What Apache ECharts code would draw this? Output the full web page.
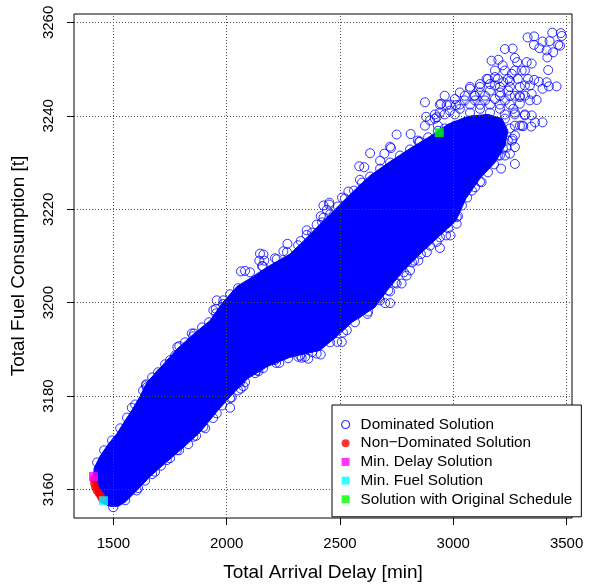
<!DOCTYPE html>
<html>
<head>
<meta charset="utf-8">
<script src="https://cdn.jsdelivr.net/npm/echarts@6/dist/echarts.min.js"></script>
<style>
  html, body { margin: 0; padding: 0; background: #ffffff; }
  #chart { width: 591px; height: 588px; }
</style>
</head>
<body>
<div id="chart"></div>
<script>
// Axis ticks
const delayTicks = [1500, 2000, 2500, 3000, 3500];
const fuelTicks = [3160, 3180, 3200, 3220, 3240, 3260];

// Outline of the densely packed part of the dominated-solution cloud
const coreDelay = [1485, 1441, 1424, 1411, 1415, 1441, 1477, 1516, 1552, 1582, 1618, 1649, 1706, 1781, 1852, 1927, 1980, 2046, 2103, 2178,
  2279, 2337, 2412, 2487, 2558, 2633, 2721, 2809, 2897, 2977, 3065, 3153, 3215, 3241, 3228, 3184, 3118, 3056, 3012, 2928,
  2853, 2778, 2708, 2654, 2553, 2491, 2412, 2279, 2182, 2094, 2033, 1962, 1883, 1816, 1737, 1662, 1596, 1552, 1521];
const coreFuel = [3156.4, 3157.3, 3159.0, 3162.0, 3164.6, 3167.1, 3169.7, 3172.0, 3174.8, 3177.0, 3180.0, 3183.0, 3186.0, 3190.1, 3193.2, 3196.2, 3199.9, 3203.5, 3205.2, 3207.6,
  3210.4, 3213.1, 3216.8, 3220.4, 3223.8, 3227.2, 3230.2, 3233.0, 3235.6, 3238.2, 3239.9, 3240.3, 3239.4, 3236.8, 3233.6, 3230.0, 3226.6, 3222.3, 3217.6, 3213.8,
  3210.4, 3206.7, 3202.6, 3199.0, 3195.8, 3193.0, 3189.8, 3188.3, 3186.4, 3183.8, 3180.8, 3177.0, 3172.3, 3169.3, 3166.0, 3162.8, 3159.4, 3157.3, 3156.4];

// Individually visible dominated solutions (outliers and the ragged edge of the cloud)
const dominatedDelay = [
  3475, 3479, 3357, 3425, 3463, 3356, 3380, 3412, 3441, 3471, 3262, 3272, 3199, 3218, 3282, 3324, 3346, 3415, 3419, 3456,
  3412, 3357, 3302, 3258, 3184, 3147, 3162, 3118, 3221, 3243, 3316, 3346, 3394, 3368, 3294, 3265, 3346, 3394, 3344, 3294,
  3262, 3272, 2875, 2880, 2971, 3012, 3093, 2750, 2812, 2849, 2721, 2919, 2946, 3211, 3361, 3422, 3309, 3378, 3169, 3228,
  3328, 3437, 3394,
  2633, 2725, 2607, 2696, 2453, 2509, 2537, 2588, 2677, 2927, 2585,
  2081, 2162, 2166, 2159, 2221, 2268, 2250, 2327, 2353, 2397, 2427, 2452, 2442, 1952, 1985, 2063, 2147, 2144, 1846, 1782,
  1644, 1706, 1956, 2415, 2427, 2353,
  2941, 2968, 2971, 2827, 2750, 2699, 2621, 2578, 2530, 2488, 2397, 2346, 2316, 2218, 2206, 2133, 2059, 2007, 2015, 2022,
  2062, 2074, 2140, 2232, 2331, 2360, 2415, 2508, 1856, 1791, 1581, 1647, 1699, 1750, 1941, 1780, 1736, 1684, 1603, 1853,
  1897, 1956, 2988, 3015, 3015, 2883, 2846, 2809, 2772, 2713, 2721, 2673, 3096, 3125, 2927, 2794, 3177, 3236,
  2985, 3029, 3074, 3118, 3162, 3206, 3228, 3184, 3140, 3096, 3051, 3007, 2962, 3206, 3250, 3162, 3118, 3074, 3241, 3197,
  3153, 3109, 3272, 3228, 3184, 3140, 3096, 3051, 3007, 3250, 3206, 3162, 3118, 3294, 3316, 3272, 3074, 3029, 2941, 2897,
  3294, 3338, 3250, 3184, 3338,
  1428, 1459, 1494, 1530, 1560, 1596, 1631, 1671, 1728, 1816, 1891, 1953, 2015,
  1772, 1852, 1922, 1984, 2050, 1697, 1644,
  1499, 1552, 1609, 1671, 1750, 1830, 1905, 1980, 2050, 2125, 2213, 2324, 2456, 2566, 2677, 2743, 2818, 2897, 2977, 3038,
  3082, 3153, 3206,
  1640, 1710, 1790, 1865, 1940, 2015, 2081, 2161, 2271, 2377, 2513, 2624, 2721, 2782, 2857, 2941, 3021, 3061, 3118, 3180,
  3219,
  2103, 2213, 2315, 2377, 2456, 2522, 2597, 2677, 2765, 2853, 2932,
  2156, 2266, 2421, 2491, 2562, 2633, 2721, 2809, 2889,
  3184, 3228, 3272, 3316,
  3153, 3197, 3241, 3285, 3330,
  3074, 3118, 3206, 3250, 3294,
  2962, 3051, 3096, 3140, 3206, 3272, 3316,
  2941, 2985, 3029, 3074, 3118, 3162, 3206, 3250,
  2919, 2962, 3007, 3228, 3272, 3316,
  2875, 2932, 3272, 3303,
  2844, 3259,
  3228, 3197, 3250, 3272
];
const dominatedFuel = [
  3257.7, 3257.1, 3257.0, 3256.0, 3255.2, 3255.2, 3254.5, 3254.0, 3253.6, 3255.0, 3254.4, 3252.4, 3252.0, 3250.8, 3251.5, 3251.5, 3251.2, 3252.5, 3249.8, 3246.3,
  3247.2, 3247.7, 3249.7, 3249.0, 3248.3, 3247.9, 3246.8, 3246.8, 3247.2, 3245.4, 3246.5, 3244.7, 3245.8, 3243.4, 3244.0, 3241.5, 3240.1, 3238.6, 3237.7, 3237.9,
  3235.1, 3233.3, 3242.9, 3239.8, 3242.3, 3242.3, 3244.3, 3236.0, 3236.1, 3234.4, 3233.4, 3239.4, 3242.6, 3228.7, 3238.6, 3246.3, 3237.8, 3247.3, 3251.8, 3254.3,
  3256.8, 3257.8, 3255.9,
  3232.0, 3233.1, 3229.0, 3231.9, 3221.4, 3222.5, 3223.8, 3226.3, 3230.4, 3239.7, 3229.2,
  3206.8, 3210.3, 3209.0, 3207.8, 3209.3, 3212.6, 3211.0, 3213.2, 3214.5, 3216.7, 3218.2, 3221.0, 3219.9, 3198.7, 3200.5, 3206.7, 3210.5, 3209.0, 3193.4, 3190.5,
  3182.3, 3184.8, 3200.5, 3218.5, 3220.8, 3215.5,
  3211.7, 3214.4, 3216.9, 3209.0, 3204.1, 3199.9, 3197.6, 3197.6, 3194.1, 3191.6, 3189.1, 3188.4, 3188.4, 3187.1, 3188.7, 3185.5, 3183.0, 3181.1, 3177.5, 3179.7,
  3181.6, 3182.1, 3185.3, 3187.1, 3188.2, 3188.0, 3188.9, 3191.6, 3193.4, 3190.7, 3177.5, 3181.9, 3183.5, 3187.7, 3198.4, 3168.4, 3166.3, 3163.8, 3159.8, 3171.3,
  3173.4, 3176.3, 3214.4, 3216.9, 3218.3, 3210.8, 3209.0, 3206.9, 3204.1, 3202.6, 3199.9, 3200.9, 3224.7, 3225.8, 3213.0, 3205.8, 3231.4, 3233.2,
  3241.1, 3241.5, 3240.7, 3241.5, 3240.7, 3241.5, 3239.4, 3238.6, 3239.0, 3237.9, 3238.6, 3237.9, 3237.3, 3236.8, 3237.3, 3235.8, 3236.8, 3235.8, 3234.7, 3233.6,
  3233.0, 3232.6, 3240.7, 3243.3, 3243.6, 3243.3, 3243.3, 3243.3, 3243.6, 3244.3, 3245.0, 3245.4, 3245.0, 3242.6, 3240.1, 3235.8, 3245.8, 3245.0, 3240.7, 3239.0,
  3244.3, 3243.3, 3247.5, 3246.5, 3246.5,
  3165.8, 3168.4, 3170.5, 3173.1, 3175.4, 3178.2, 3181.2, 3184.0, 3186.8, 3191.5, 3194.7, 3197.7, 3201.8,
  3188.7, 3192.8, 3195.8, 3199.7, 3203.1, 3185.1, 3182.5,
  3156.2, 3157.7, 3160.3, 3163.3, 3166.7, 3169.7, 3173.1, 3178.0, 3181.2, 3184.9, 3187.7, 3188.7, 3191.5, 3195.8, 3200.5, 3204.3, 3208.6, 3212.2, 3215.9, 3220.8,
  3224.0, 3227.9, 3231.5,
  3161.9, 3165.1, 3168.4, 3171.5, 3175.3, 3179.6, 3183.0, 3186.0, 3188.1, 3189.4, 3193.6, 3198.1, 3202.4, 3206.5, 3210.4, 3214.0, 3218.5, 3222.5, 3225.9, 3229.6,
  3233.0,
  3206.5, 3209.5, 3212.3, 3215.0, 3218.9, 3222.3, 3225.7, 3228.7, 3231.5, 3234.5, 3236.8,
  3207.8, 3210.8, 3217.2, 3220.6, 3224.0, 3227.0, 3230.0, 3232.8, 3235.4,
  3249.7, 3249.7, 3249.7, 3249.7,
  3247.9, 3247.9, 3247.9, 3247.9, 3247.9,
  3246.2, 3246.2, 3246.2, 3246.2, 3246.2,
  3244.3, 3244.3, 3244.3, 3244.3, 3244.3, 3244.3, 3244.3,
  3242.4, 3242.4, 3242.4, 3242.4, 3242.4, 3242.4, 3242.4, 3242.4,
  3240.3, 3240.3, 3240.3, 3240.3, 3240.3, 3240.3,
  3237.9, 3237.9, 3237.9, 3237.9,
  3234.7, 3234.7,
  3231.5, 3231.5, 3231.9, 3229.7
];

// Pareto front
const nonDominatedDelay = [1413, 1415, 1419, 1426, 1435, 1444, 1450];
const nonDominatedFuel = [3162.2, 3161.3, 3160.5, 3159.8, 3159.2, 3158.6, 3158.1];

// Highlighted solutions [delay, fuel]
const minDelayPoint = [1412, 3162.8];
const minFuelPoint = [1456, 3157.6];
const originalSchedulePoint = [2938, 3236.4];

const BLUE = '#0000ff';
const FONT = "'Liberation Sans', Arial, Helvetica, sans-serif";

const zip = (xs, ys) => xs.map((x, i) => [x, ys[i]]);
const plainNumber = v => String(v);

const chart = echarts.init(document.getElementById('chart'), null, { renderer: 'canvas' });

chart.setOption({
  animation: false,
  backgroundColor: '#ffffff',
  textStyle: { fontFamily: FONT },
  grid: {
    left: 74, top: 14, right: 19, bottom: 70,
    show: true, borderColor: '#000000', borderWidth: 1, backgroundColor: 'transparent'
  },
  xAxis: {
    type: 'value',
    min: 1326, max: 3524,
    name: 'Total Arrival Delay [min]',
    nameLocation: 'middle',
    nameGap: 45,
    nameTextStyle: { fontSize: 19, color: '#000', fontFamily: FONT },
    axisLine: { show: false },
    splitLine: { show: false },
    axisTick: { show: true, inside: false, length: 7, customValues: delayTicks, lineStyle: { color: '#000', width: 1 } },
    axisLabel: { customValues: delayTicks, formatter: plainNumber, margin: 18, fontSize: 15, color: '#000', fontFamily: FONT }
  },
  yAxis: {
    type: 'value',
    min: 3153.9, max: 3261.8,
    name: 'Total Fuel Consumption [t]',
    nameLocation: 'middle',
    nameGap: 46,
    nameRotate: 90,
    nameTextStyle: { fontSize: 19, color: '#000', fontFamily: FONT },
    axisLine: { show: false },
    splitLine: { show: false },
    axisTick: { show: true, inside: false, length: 7, customValues: fuelTicks, lineStyle: { color: '#000', width: 1 } },
    axisLabel: { customValues: fuelTicks, formatter: plainNumber, rotate: 90, margin: 18, fontSize: 15, color: '#000', fontFamily: FONT }
  },
  legend: {
    orient: 'vertical',
    left: 332, top: 405,
    padding: [12, 9, 10, 9],
    itemGap: 3.7,
    itemWidth: 8, itemHeight: 8,
    backgroundColor: '#ffffff',
    borderColor: '#000000', borderWidth: 1, borderRadius: 0,
    textStyle: { fontSize: 15.3, lineHeight: 15, color: '#000', fontFamily: FONT, padding: [0, 0, 0, 6] },
    selectedMode: false,
    z: 10,
    data: [
      { name: 'Dominated Solution', icon: 'circle', itemStyle: { color: 'rgba(0,0,0,0)', borderColor: BLUE, borderWidth: 1.2 } },
      { name: 'Non\u2212Dominated Solution', icon: 'circle', itemStyle: { color: '#ff0000', borderWidth: 0 } },
      { name: 'Min. Delay Solution', icon: 'rect', itemStyle: { color: '#ff00ff', borderWidth: 0 } },
      { name: 'Min. Fuel Solution', icon: 'rect', itemStyle: { color: '#00ffff', borderWidth: 0 } },
      { name: 'Solution with Original Schedule', icon: 'rect', itemStyle: { color: '#00ff00', borderWidth: 0 } }
    ]
  },
  series: [
    {
      // dotted reference grid
      name: 'grid',
      type: 'scatter',
      data: [],
      silent: true,
      z: 0,
      markLine: {
        silent: true,
        symbol: ['none', 'none'],
        label: { show: false },
        animation: false,
        lineStyle: { color: '#4a4a4a', type: [1, 2], width: 1 },
        emphasis: { disabled: true },
        data: delayTicks.map(v => ({ xAxis: v })).concat(fuelTicks.map(v => ({ yAxis: v })))
      }
    },
    {
      // tightly overlapping dominated solutions form a solid mass
      name: 'Dominated core',
      type: 'custom',
      silent: true,
      z: 1,
      clip: true,
      encode: { x: 0, y: 1 },
      data: [[coreDelay[0], coreFuel[0]]],
      renderItem: function (params, api) {
        const pts = coreDelay.map((d, i) => api.coord([d, coreFuel[i]]));
        return {
          type: 'polygon',
          shape: { points: pts },
          style: { fill: BLUE, stroke: BLUE, lineWidth: 1 }
        };
      }
    },
    {
      name: 'Dominated Solution',
      type: 'scatter',
      z: 2,
      silent: true,
      symbol: 'circle',
      symbolSize: 9,
      itemStyle: { color: 'rgba(0,0,0,0)', borderColor: BLUE, borderWidth: 1 },
      data: zip(dominatedDelay, dominatedFuel)
    },
    {
      name: 'Non\u2212Dominated Solution',
      type: 'scatter',
      z: 3,
      silent: true,
      symbol: 'circle',
      symbolSize: 8,
      itemStyle: { color: '#ff0000' },
      data: zip(nonDominatedDelay, nonDominatedFuel)
    },
    {
      name: 'Min. Delay Solution',
      type: 'scatter',
      z: 4,
      silent: true,
      symbol: 'rect',
      symbolSize: 9,
      itemStyle: { color: '#ff00ff' },
      data: [minDelayPoint]
    },
    {
      name: 'Min. Fuel Solution',
      type: 'scatter',
      z: 4,
      silent: true,
      symbol: 'rect',
      symbolSize: 9,
      itemStyle: { color: '#00ffff' },
      data: [minFuelPoint]
    },
    {
      name: 'Solution with Original Schedule',
      type: 'scatter',
      z: 4,
      silent: true,
      symbol: 'rect',
      symbolSize: 9,
      itemStyle: { color: '#00ff00' },
      data: [originalSchedulePoint]
    }
  ]
});
</script>
</body>
</html>
